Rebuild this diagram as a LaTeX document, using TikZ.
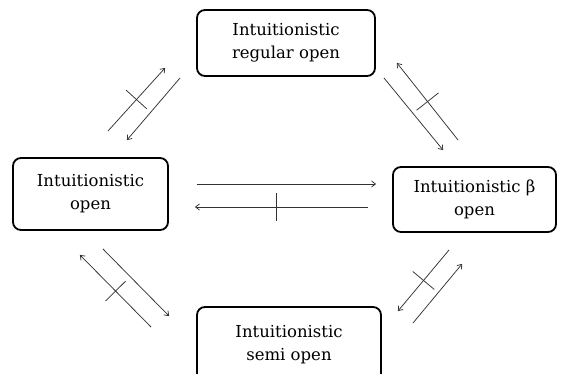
\documentclass[tikz,border=0pt]{standalone}
\usepackage{fontspec}
\setmainfont{DejaVu Serif}
\usetikzlibrary{arrows.meta, calc, decorations.markings}

\begin{document}
\begin{tikzpicture}[x=1pt, y=-1pt, >={Straight Barb[length=4pt, width=6pt]},
    box/.style={draw, line width=1.8pt, rounded corners=8pt, align=center, inner sep=0pt,
        font=\fontsize{16.5}{23}\selectfont},
    imp/.style={->, line width=0.75pt, black!80},
    nimp/.style={imp, postaction={decorate},
        decoration={markings, mark=at position #1 with {\draw[-] (0pt,-14pt) -- (0pt,14pt);}}},
    nimp/.default=.5]
            \useasboundingbox (0,0) rectangle (564,374);

            \node[box, minimum width=178pt, minimum height=66pt] (rego) at (286,43) {Intuitionistic\\regular open};
            \node[box, minimum width=155pt, minimum height=72pt] (opn) at (90.5,194) {Intuitionistic\\open};
            \node[box, minimum width=163pt, minimum height=65pt] (beta) at (474.5,199.5) {Intuitionistic β\\open};
            \node[box, minimum width=184pt, minimum height=76pt] (semi) at (289,345) {Intuitionistic\\semi open};

            \draw[nimp] ($(opn.north east)+(-61,-26)$) -- ($(rego.south west)+(-31,-9)$);
            \draw[imp] ($(rego.south west)+(-16,1)$) -- ($(opn.north east)+(-42,-17)$);
            \draw[nimp] ($(beta.north west)+(66,-26)$) -- ($(rego.south east)+(21,-14)$);
            \draw[imp] ($(rego.south east)+(8,1)$) -- ($(beta.north west)+(51,-16)$);
            \draw[imp] ($(opn.east)+(28,-10)$) -- ($(beta.west)+(-16,-15.5)$);
            \draw[nimp=.53] ($(beta.west)+(-24,7.5)$) -- ($(opn.east)+(26,13)$);
            \draw[nimp] ($(semi.north west)+(-45,21)$) -- ($(opn.south east)+(-89,24)$);
            \draw[imp] ($(opn.south east)+(-66,18)$) -- ($(semi.north west)+(-27,10)$);
            \draw[nimp] ($(beta.south west)+(57,17)$) -- ($(semi.north east)+(16,5)$);
            \draw[imp] ($(semi.north east)+(31,17)$) -- ($(beta.south west)+(70,31)$);

\end{tikzpicture}
\end{document}
